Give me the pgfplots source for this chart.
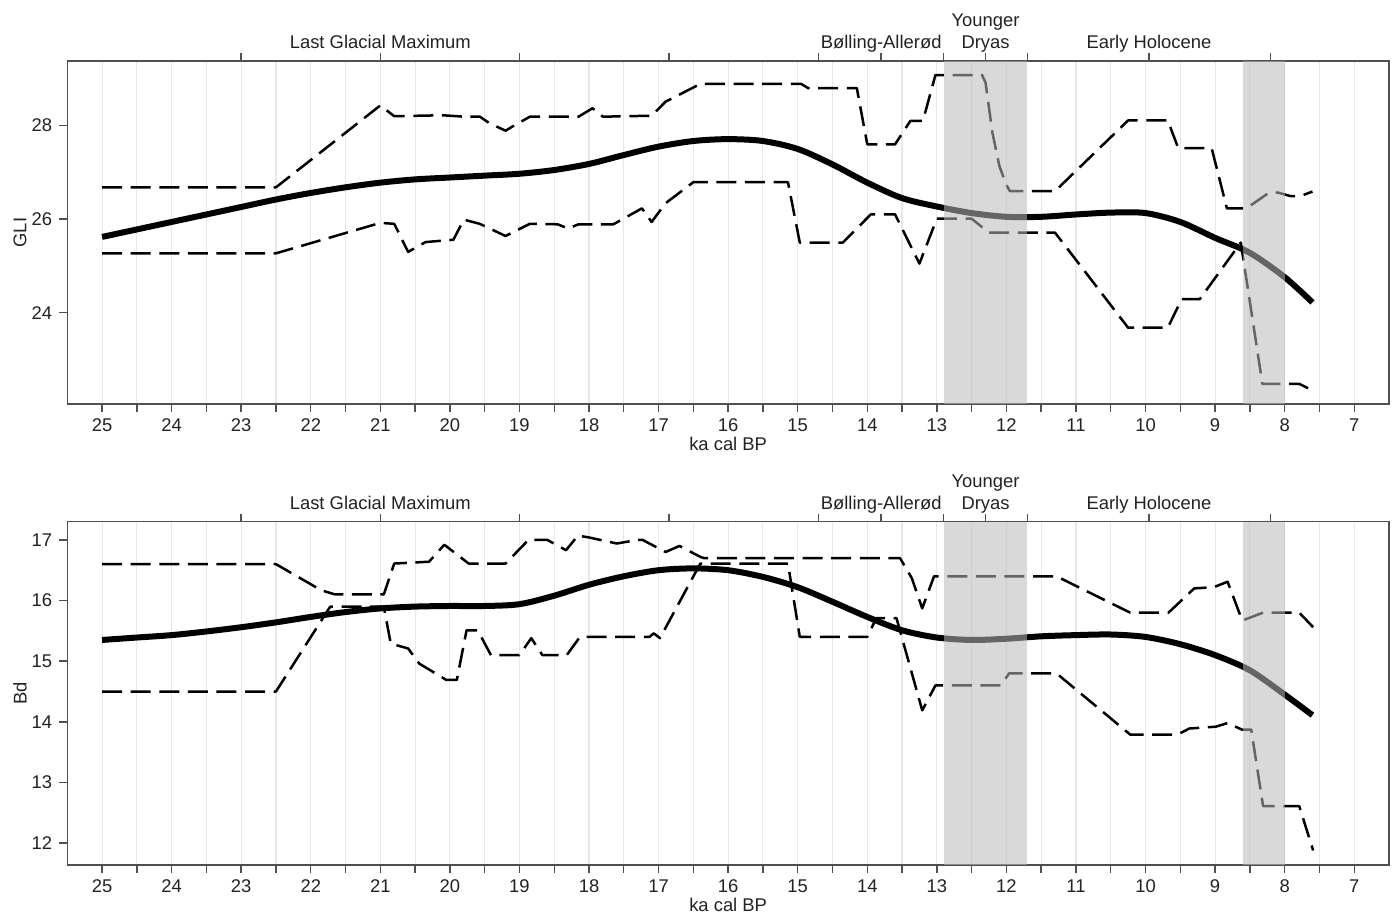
\documentclass[border=0pt]{standalone}
\usepackage{fontspec}
\setmainfont{Liberation Sans}
\usepackage{pgfplots}
\pgfplotsset{compat=1.18}
\definecolor{framec}{HTML}{505050}
\definecolor{gridc}{HTML}{E8E8E8}
\definecolor{txt}{HTML}{222222}
\newcommand{\fs}{\fontsize{9.2}{11}\selectfont}
\pgfplotsset{
  base/.style={
    scale only axis, width=660.85pt,
    x dir=reverse, xmin=6.5, xmax=25.5,
    axis line style={draw=framec, line width=0.7pt},
    tick style={draw=framec, line width=0.7pt},
    tick align=outside,
    major tick length=4pt, minor tick length=4pt,
    /pgf/number format/assume math mode=true,
    tick label style={font=\fs, text=txt},
    label style={font=\fs, text=txt},
  },
  main/.style={base,
    xtick={7,...,25}, minor xtick={7.5,8.5,...,24.5},
    xtick pos=left, ytick pos=left,
    xmajorgrids, xminorgrids,
    major grid style={draw=gridc, line width=0.55pt},
    minor grid style={draw=gridc, line width=0.55pt},
    xlabel={ka cal BP},
    xlabel style={at={(axis description cs:0.5,0)}, anchor=center, yshift=-20pt},
    ylabel style={at={(axis description cs:-0.0357,0.5)}, anchor=center},
    clip=true,
  },
  period/.style={base, ymin=0, ymax=1, ytick=\empty,
    xtick pos=right, xticklabel pos=right,
    xtick={23,21,19,16.85,14.7,13.8,12.9,12.3,11.7,9.95,8.2},
    xticklabels={,Last Glacial Maximum,,,,Bølling-Allerød,,{Younger\\Dryas},,Early Holocene,},
    xticklabel style={align=center, anchor=south, text depth=0pt, inner sep=0pt, yshift=1.8pt},
    axis line style={draw=none},
  },
  mean/.style={black, line width=3pt, smooth, tension=0.5},
  ci/.style={black, line width=1.25pt, dash pattern=on 10pt off 4.3pt, line join=round},
  band/.style={draw=none, fill=black!27.3, fill opacity=0.55, forget plot},
}

\pgfplotstableread{
x y
25 25.62
24.5 25.78
24 25.94
23.5 26.10
23 26.26
22.5 26.42
22 26.56
21.5 26.68
21 26.78
20.5 26.85
20 26.89
19.5 26.93
19 26.97
18.5 27.05
18 27.18
17.5 27.37
17 27.55
16.5 27.67
16 27.71
15.5 27.67
15 27.50
14.5 27.17
14 26.78
13.5 26.45
13 26.27
12.5 26.13
12 26.05
11.5 26.05
11 26.10
10.5 26.14
10 26.13
9.5 25.94
9 25.60
8.5 25.28
8 24.76
7.6 24.22
}\gliMean

\pgfplotstableread{
x y
25 26.68
22.5 26.68
21.0 28.43
20.8 28.20
20.1 28.22
19.8 28.19
19.57 28.19
19.43 28.05
19.2 27.89
19.1 27.98
18.85 28.19
18.15 28.19
17.95 28.37
17.8 28.19
17.1 28.21
16.9 28.51
16.4 28.89
14.95 28.89
14.85 28.80
14.15 28.80
14.0 27.60
13.6 27.60
13.38 28.10
13.2 28.10
13.02 29.08
12.35 29.08
12.3 28.92
12.2 27.84
12.1 27.13
12.0 26.73
11.95 26.60
11.3 26.60
10.25 28.11
9.68 28.11
9.53 27.52
9.05 27.52
8.83 26.23
8.55 26.23
8.24 26.55
8.1 26.57
7.91 26.49
7.76 26.50
7.6 26.59
}\gliUp

\pgfplotstableread{
x y
25 25.27
22.5 25.27
21.0 25.92
20.8 25.90
20.6 25.30
20.35 25.51
19.95 25.56
19.8 25.99
19.57 25.90
19.2 25.64
18.85 25.90
18.45 25.89
18.3 25.80
18.15 25.89
17.65 25.89
17.24 26.23
17.1 25.94
16.9 26.34
16.5 26.79
15.14 26.79
14.97 25.50
14.35 25.50
13.95 26.10
13.6 26.10
13.25 25.05
13.0 26.01
12.5 26.01
12.25 25.71
11.3 25.71
10.25 23.68
9.68 23.68
9.48 24.29
9.22 24.29
8.63 25.50
8.32 22.48
7.79 22.48
7.6 22.34
}\gliLo

\pgfplotstableread{
x y
25 15.35
24.5 15.39
24 15.43
23.5 15.49
23 15.56
22.5 15.64
22 15.73
21.5 15.81
21 15.87
20.5 15.90
20 15.91
19.5 15.91
19 15.94
18.5 16.08
18 16.26
17.5 16.40
17 16.50
16.5 16.53
16 16.50
15.5 16.39
15 16.22
14.5 15.98
14 15.73
13.5 15.51
13 15.39
12.5 15.35
12 15.37
11.5 15.41
11 15.43
10.5 15.44
10 15.40
9.5 15.28
9 15.10
8.5 14.85
8 14.45
7.6 14.11
}\bdMean

\pgfplotstableread{
x y
25 16.60
22.5 16.60
21.85 16.17
21.65 16.10
20.95 16.10
20.8 16.61
20.3 16.64
20.08 16.92
19.73 16.61
19.2 16.61
18.87 17.00
18.6 17.00
18.33 16.83
18.16 17.07
18.0 17.04
17.6 16.94
17.3 17.00
17.23 17.00
16.9 16.80
16.7 16.90
16.4 16.72
16.35 16.70
13.53 16.70
13.36 16.37
13.21 15.87
13.04 16.40
11.28 16.40
10.22 15.80
9.67 15.80
9.3 16.20
9.02 16.22
8.82 16.31
8.61 15.67
8.31 15.80
7.79 15.80
7.59 15.56
}\bdUp

\pgfplotstableread{
x y
25 14.50
22.5 14.50
21.72 15.90
20.95 15.90
20.85 15.29
20.6 15.21
20.44 14.96
20.05 14.69
19.9 14.69
19.76 15.51
19.6 15.51
19.41 15.10
19.0 15.10
18.83 15.38
18.67 15.10
18.32 15.10
18.13 15.40
17.13 15.40
17.07 15.46
16.98 15.38
16.4 16.61
15.14 16.61
14.97 15.40
14.0 15.40
13.87 15.71
13.58 15.71
13.21 14.19
13.02 14.60
12.08 14.60
11.96 14.80
11.28 14.80
10.22 13.79
9.54 13.79
9.37 13.89
8.99 13.92
8.82 13.98
8.61 13.87
8.48 13.87
8.31 12.61
7.79 12.61
7.59 11.88
}\bdLo

\begin{document}
\begin{tikzpicture}
\path[use as bounding box] (0,0) rectangle (698.5pt,456.5pt);
% ---------- top panel ----------
\begin{axis}[main, at={(33.65pt,254.5pt)}, anchor=south west, height=171.5pt,
  ymin=22.05, ymax=29.38, ytick={24,26,28}, ylabel={GLI}]
\addplot[ci] table {\gliUp};
\addplot[ci] table {\gliLo};
\addplot[mean] table {\gliMean};
\addplot[band] coordinates {(12.9,22.05) (12.9,29.38) (11.7,29.38) (11.7,22.05)} -- cycle;
\addplot[band] coordinates {(8.6,22.05) (8.6,29.38) (8.0,29.38) (8.0,22.05)} -- cycle;
\end{axis}
\begin{axis}[period, at={(33.65pt,254.5pt)}, anchor=south west, height=171.5pt]
\end{axis}
% ---------- bottom panel ----------
\begin{axis}[main, at={(33.65pt,24pt)}, anchor=south west, height=171.65pt,
  ymin=11.64, ymax=17.30, ytick={12,13,14,15,16,17}, ylabel={Bd}]
\addplot[ci] table {\bdUp};
\addplot[ci] table {\bdLo};
\addplot[mean] table {\bdMean};
\addplot[band] coordinates {(12.9,11.64) (12.9,17.30) (11.7,17.30) (11.7,11.64)} -- cycle;
\addplot[band] coordinates {(8.6,11.64) (8.6,17.30) (8.0,17.30) (8.0,11.64)} -- cycle;
\end{axis}
\begin{axis}[period, at={(33.65pt,24pt)}, anchor=south west, height=171.65pt]
\end{axis}
\end{tikzpicture}
\end{document}
